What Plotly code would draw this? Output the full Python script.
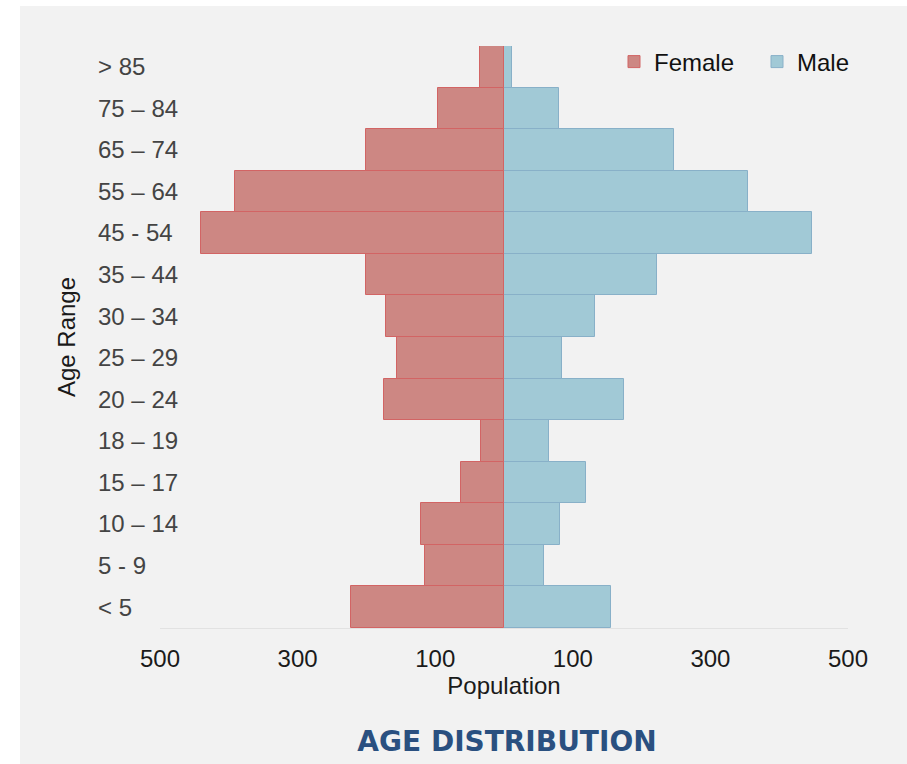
import plotly.graph_objects as go

age_groups = ["< 5", "5 - 9", "10 – 14", "15 – 17", "18 – 19", "20 – 24", "25 – 29",
              "30 – 34", "35 – 44", "45 - 54", "55 – 64", "65 – 74", "75 – 84", "> 85"]
female = [222, 115, 120, 63, 33, 174, 155, 172, 200, 440, 391, 201, 96, 35]
male = [155, 58, 81, 119, 65, 175, 84, 132, 222, 448, 354, 247, 80, 11]
x_tickvals = [-500, -300, -100, 100, 300, 500]
x_ticktext = ["500", "300", "100", "100", "300", "500"]

FONT = "Liberation Sans, Arial, sans-serif"

fig = go.Figure()
fig.add_trace(go.Bar(
    y=age_groups, x=[-v for v in female], name="Female", orientation="h",
    yaxis="y2", legend="legend", showlegend=True,
    marker=dict(color="#cd8783", line=dict(color="#d26464", width=1)),
    customdata=female, hovertemplate="%{y}: %{customdata}<extra>Female</extra>",
))
fig.add_trace(go.Bar(
    y=age_groups, x=male, name="Male", orientation="h",
    yaxis="y", legend="legend2", showlegend=True,
    marker=dict(color="#a1c9d6", line=dict(color="#88b0c8", width=1)),
    hovertemplate="%{y}: %{x}<extra>Male</extra>",
))

W, H = 907, 764
L, R, T, B = 80, 59, 46, 136
pw, ph = W - L - R, H - T - B
PLOT_LEFT = 160           # left edge of the bar area in px
LABEL_LEFT = 97           # left edge of the category labels in px

legend_common = dict(
    orientation="h", xref="paper", yref="paper", xanchor="left",
    y=((H - B) - 62) / ph, yanchor="middle",
    bgcolor="rgba(0,0,0,0)", font=dict(size=24, color="#111111"),
)

fig.update_layout(
    width=W, height=H,
    margin=dict(l=L, r=R, t=T, b=B, pad=0),
    paper_bgcolor="white", plot_bgcolor="#f2f2f2",
    barmode="overlay", bargap=0, showlegend=True,
    font=dict(family=FONT, size=24, color="#222222"),
    shapes=[dict(type="rect", xref="paper", yref="paper", layer="below",
                 x0=(20 - L) / pw, x1=(W + 5 - L) / pw,
                 y0=-(H + 5 - (H - B)) / ph, y1=((H - B) - 6) / ph,
                 fillcolor="#f2f2f2", line=dict(width=0))],
    xaxis=dict(
        domain=[(PLOT_LEFT - L) / pw, 1],
        range=[-500, 500], tickvals=x_tickvals, ticktext=x_ticktext,
        showgrid=False, zeroline=False, showline=True, linecolor="#e2e2e2", linewidth=1,
        ticks="outside", ticklen=9, tickcolor="rgba(0,0,0,0)",
        tickfont=dict(size=24, color="#1a1a1a"),
        title=dict(text="Population", font=dict(size=24, color="#1a1a1a"), standoff=4),
        fixedrange=True,
    ),
    yaxis=dict(
        type="category", categoryorder="array", categoryarray=age_groups,
        range=[-0.5, 13.5], showgrid=False, zeroline=False, showline=False,
        showticklabels=False, ticks="", fixedrange=True,
        title=dict(text="Age Range", font=dict(size=24, color="#1a1a1a"), standoff=76),
    ),
    yaxis2=dict(
        type="category", categoryorder="array", categoryarray=age_groups,
        overlaying="y", anchor="free", position=(LABEL_LEFT - L) / pw, side="right",
        range=[-0.5, 13.5], showgrid=False, zeroline=False, showline=False,
        ticks="", ticklabelposition="outside",
        tickfont=dict(size=24, color="#444444"),
        fixedrange=True,
    ),
    legend=dict(legend_common, x=(614 - L) / pw),
    legend2=dict(legend_common, x=(757 - L) / pw),
    title=dict(
        text="<b>AGE DISTRIBUTION</b>", xref="container", yref="container",
        x=507 / W, xanchor="center", y=1 - 741 / H, yanchor="middle",
        font=dict(family="DejaVu Sans, " + FONT, size=28, color="#2a5080"),
    ),
)

fig.write_html("out.html", config={"displayModeBar": False},
               post_script="document.body.style.margin='0';")
